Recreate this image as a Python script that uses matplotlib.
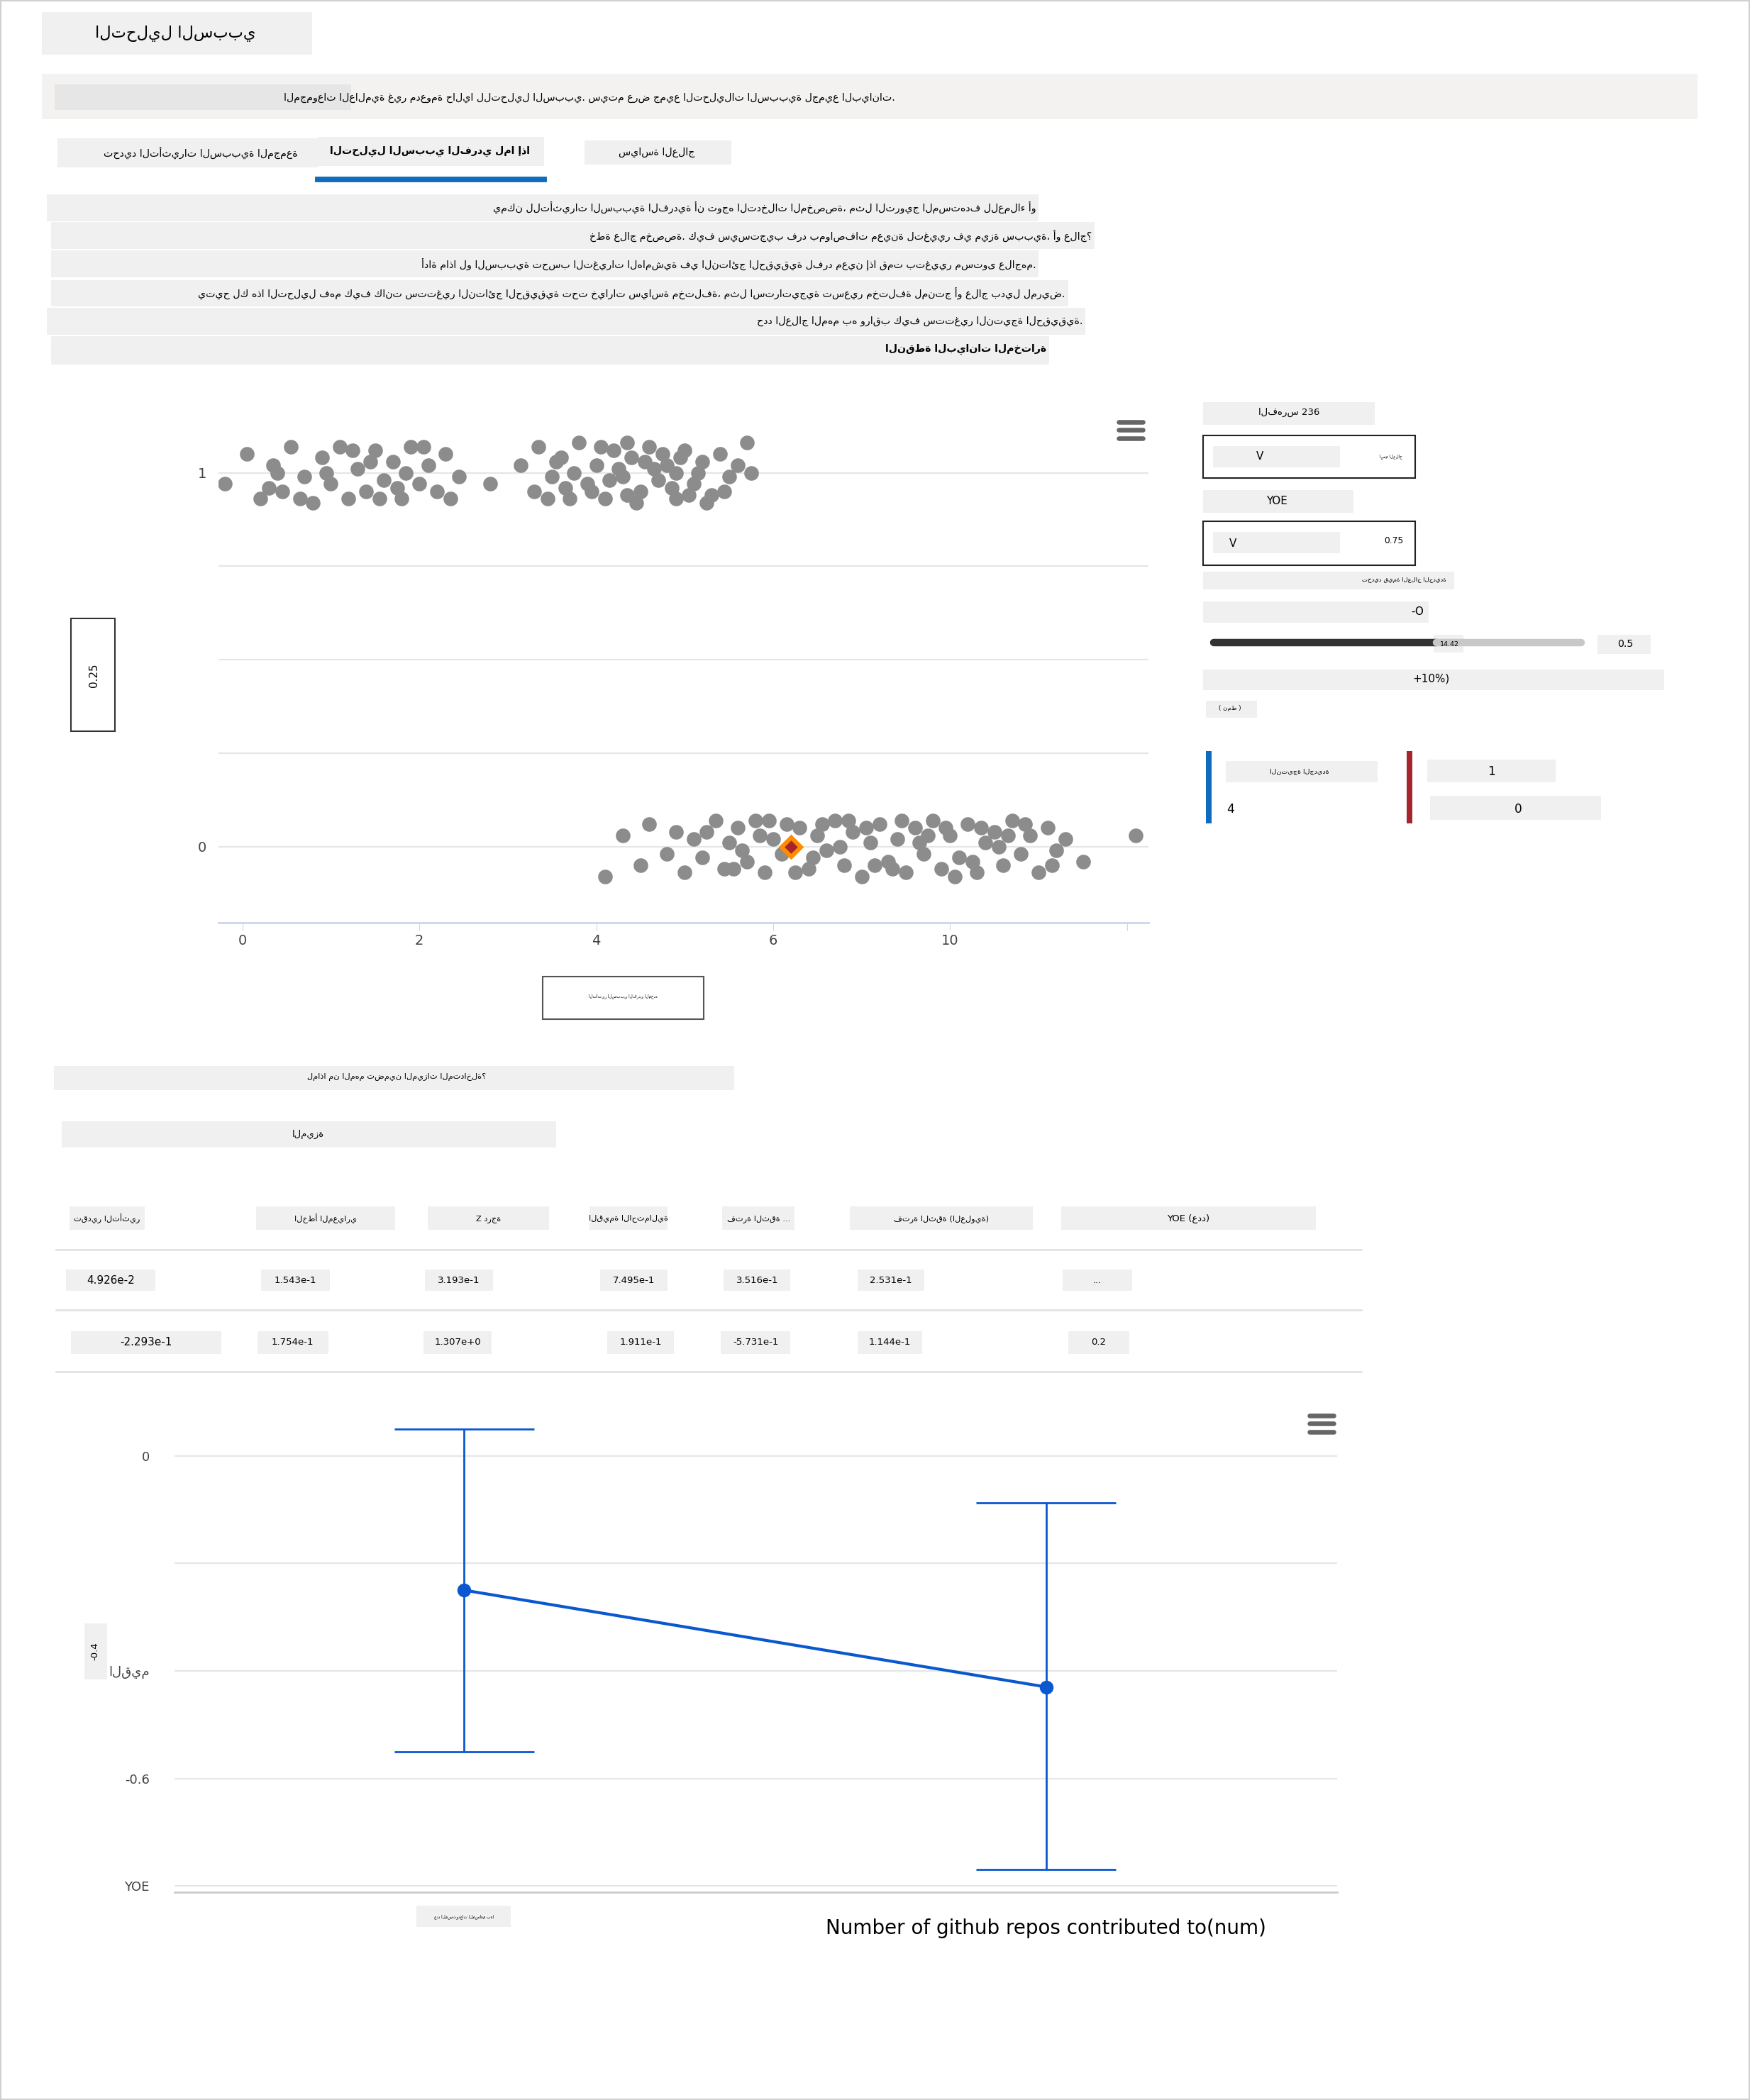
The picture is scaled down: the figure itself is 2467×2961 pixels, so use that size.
import matplotlib.pyplot as plt
from matplotlib.patches import Rectangle

plt.rcParams['font.family'] = ['DejaVu Sans']

W, H = 1306, 1568          # layout grid of the screenshot
K = 2467 / W               # pixels per layout unit
PT = K * 72 / 100          # font points per layout unit

# ---- data ----
top_pts = [(-0.2, 0.97), (0.05, 1.05), (0.2, 0.93), (0.35, 1.02), (0.45, 0.95), (0.55, 1.07), (0.7, 0.99),
           (0.8, 0.92), (0.9, 1.04), (1.0, 0.97), (1.1, 1.07), (1.2, 0.93), (1.3, 1.01), (1.4, 0.95),
           (1.5, 1.06), (1.6, 0.98), (1.7, 1.03), (1.8, 0.93), (1.9, 1.07), (2.0, 0.97), (2.1, 1.02),
           (2.2, 0.95), (2.3, 1.05), (2.45, 0.99), (0.4, 1.0), (0.65, 0.93), (1.25, 1.06), (1.55, 0.93),
           (1.85, 1.0), (2.05, 1.07), (1.45, 1.03), (1.75, 0.96), (0.3, 0.96), (0.95, 1.0), (2.35, 0.93),
           (2.8, 0.97), (3.15, 1.02), (3.3, 0.95), (3.35, 1.07), (3.5, 0.99), (3.6, 1.04), (3.7, 0.93),
           (3.8, 1.08), (3.9, 0.97), (4.0, 1.02), (4.1, 0.93), (4.2, 1.06), (4.3, 0.99), (4.4, 1.04),
           (4.5, 0.95), (4.6, 1.07), (4.7, 0.98), (4.8, 1.02), (4.9, 0.93), (5.0, 1.06), (5.1, 0.97),
           (5.2, 1.03), (5.3, 0.94), (5.4, 1.05), (5.5, 0.99), (5.6, 1.02), (5.7, 1.08), (5.75, 1.0),
           (3.45, 0.93), (3.75, 1.0), (4.05, 1.07), (4.35, 0.94), (4.65, 1.01), (4.95, 1.04), (5.25, 0.92),
           (3.55, 1.03), (3.95, 0.95), (4.25, 1.01), (4.55, 1.03), (4.85, 0.96), (5.15, 1.0), (5.45, 0.95),
           (4.15, 0.98), (4.45, 0.92), (4.75, 1.05), (5.05, 0.94), (4.35, 1.08), (3.65, 0.96), (4.9, 1.0)]
bot_pts = [(4.1, -0.08), (4.3, 0.03), (4.5, -0.05), (4.6, 0.06), (4.8, -0.02), (4.9, 0.04), (5.0, -0.07),
           (5.1, 0.02), (5.2, -0.03), (5.35, 0.07), (5.45, -0.06), (5.5, 0.01), (5.6, 0.05), (5.7, -0.04),
           (5.8, 0.07), (5.9, -0.07), (6.0, 0.02), (6.1, -0.02), (6.3, 0.05), (6.4, -0.06), (6.5, 0.03),
           (6.6, -0.01), (6.7, 0.07), (6.8, -0.05), (6.9, 0.04), (7.0, -0.08), (7.1, 0.01), (7.2, 0.06),
           (7.3, -0.04), (7.4, 0.02), (7.5, -0.07), (7.6, 0.05), (7.7, -0.02), (7.8, 0.07), (7.9, -0.06),
           (8.0, 0.03), (8.1, -0.03), (8.2, 0.06), (8.3, -0.07), (8.4, 0.01), (8.5, 0.04), (8.6, -0.05),
           (8.7, 0.07), (8.8, -0.02), (8.9, 0.03), (9.0, -0.07), (9.1, 0.05), (9.2, -0.01), (9.3, 0.02),
           (9.5, -0.04), (10.1, 0.03), (5.25, 0.04), (5.55, -0.06), (5.85, 0.03), (6.15, 0.06), (6.45, -0.03),
           (6.75, 0.0), (7.05, 0.05), (7.35, -0.06), (7.65, 0.01), (7.95, 0.05), (8.25, -0.04), (8.55, 0.0),
           (8.85, 0.06), (9.15, -0.05), (6.25, -0.07), (6.85, 0.07), (7.45, 0.07), (8.05, -0.08), (8.65, 0.03),
           (5.95, 0.07), (7.15, -0.05), (7.75, 0.03), (8.35, 0.05), (6.55, 0.06), (5.65, -0.01)]
selected = (6.2, 0.0)
x_ticks = [0, 2, 4, 6, 8, 10]
x_tick_labels = ['0', '2', '4', '6', '10', '']
y_ticks = [0, 0.25, 0.5, 0.75, 1]
y_tick_labels = ['0', '', '', '', '1']

features = ['', 'Number of github repos contributed to(num)']
points = [-0.25, -0.43]
ci_upper = [0.05, -0.087]
ci_lower = [-0.55, -0.77]

header = ['تقدير التأثير', 'الخطأ المعياري', 'Z درجة', 'القيمة الاحتمالية', 'فترة الثقة ...',
          'فترة الثقة (العلوية)', 'YOE (عدد)']
row1 = ['4.926e-2', '1.543e-1', '3.193e-1', '7.495e-1', '3.516e-1', '2.531e-1', '...']
row2 = ['-2.293e-1', '1.754e-1', '1.307e+0', '1.911e-1', '-5.731e-1', '1.144e-1', '0.2']

fig = plt.figure(figsize=(24.67, 29.61), dpi=100)
ui = fig.add_axes([0, 0, 1, 1])
ui.set_xlim(0, W)
ui.set_ylim(H, 0)
ui.axis('off')

GRAY = '#f0f0f0'


def box(x0, y0, x1, y1, fc=GRAY, ec='none', lw=1.5):
    ui.add_patch(Rectangle((x0, y0), x1 - x0, y1 - y0, fc=fc, ec=ec, lw=lw))


def txt(x, y, s, size=8, ha='center', **kw):
    ui.text(x, y, s, fontsize=size * PT, ha=ha, va='center', **kw)


box(0.5, 0.5, W - 0.5, H - 0.5, fc='white', ec='#d0d0d0')
box(31, 9, 233, 41)
txt(131, 25, 'التحليل السببي', 12)
box(31, 55, 1267, 89, fc='#f3f2f1')
box(41, 63, 262, 82, fc='#e6e6e6')
txt(668, 73, 'المجموعات العالمية غير مدعومة حاليا للتحليل السببي. سيتم عرض جميع التحليلات السببية لجميع البيانات.', 7.5, ha='right')

box(43, 103, 237, 125)
txt(150, 114, 'تحديد التأثيرات السببية المجمعة', 7.5)
box(237, 102, 406, 124)
txt(321, 113, 'التحليل السببي الفردي لما إذا', 7.5, weight='bold')
ui.plot([237, 406], [134, 134], color='#0f6cbd', lw=3 * K)
box(436, 105, 546, 123)
txt(490, 114, 'سياسة العلاج', 7.5)

lines = [
    (35, 145, 775, 'يمكن للتأثيرات السببية الفردية أن توجه التدخلات المخصصة، مثل الترويج المستهدف للعملاء أو'),
    (38, 166, 817, 'خطة علاج مخصصة. كيف سيستجيب فرد بمواصفات معينة لتغيير في ميزة سببية، أو علاج؟'),
    (38, 187, 775, 'أداة ماذا لو السببية تحسب التغيرات الهامشية في النتائج الحقيقية لفرد معين إذا قمت بتغيير مستوى علاجهم.'),
    (38, 209, 797, 'يتيح لك هذا التحليل فهم كيف كانت ستتغير النتائج الحقيقية تحت خيارات سياسة مختلفة، مثل استراتيجية تسعير مختلفة لمنتج أو علاج بديل لمريض.'),
    (35, 230, 810, 'حدد العلاج المهم به وراقب كيف ستتغير النتيجة الحقيقية.'),
]
for x0, y0, x1, s in lines:
    box(x0, y0, x1, y0 + 20)
    txt(x1 - 2, y0 + 10, s, 7.5, ha='right')
box(38, 251, 783, 272)
txt(781, 261, 'النقطة البيانات المختارة', 7.5, ha='right', weight='bold')

# hamburger icons
for hx, hy in [(844, 321), (986, 1063)]:
    for d in (-6, 0, 6):
        ui.plot([hx - 9, hx + 9], [hy + d, hy + d], color='#666666', lw=2.5 * K, solid_capstyle='round')

box(53, 462, 86, 546, fc='white', ec='#333333')
txt(70, 504, '0.25', 8, rotation=90)
box(405, 729, 525, 761, fc='white', ec='#555555')
txt(465, 744, 'التأثير السببي الفردي المحدد', 3)

# right panel
box(898, 300, 1026, 317)
txt(962, 308, 'الفهرس 236', 7)
box(898, 325, 1056, 357, fc='white', ec='#222222')
box(905, 333, 1000, 349)
txt(940, 341, 'V', 8)
txt(1038, 341, 'اسم العلاج', 3)
box(898, 366, 1010, 383)
txt(953, 374, 'YOE', 8)
box(898, 389, 1056, 422, fc='white', ec='#222222')
box(905, 397, 1000, 413)
txt(920, 406, 'V', 8)
txt(1040, 404, '0.75', 6.5)
box(898, 427, 1085, 440)
txt(1048, 433, 'تحديد قيمة العلاج الجديدة', 4.5)
box(898, 449, 1066, 465)
txt(1058, 457, '-O', 8)
ui.plot([906, 1072], [480, 480], color='#333333', lw=4 * K, solid_capstyle='round')
ui.plot([1072, 1180], [480, 480], color='#c8c8c8', lw=4 * K, solid_capstyle='round')
box(1070, 474, 1092, 487)
txt(1082, 481, '14.42', 5)
box(1192, 474, 1232, 488)
txt(1213, 481, '0.5', 7.5)
box(898, 500, 1242, 515)
txt(1068, 507, '+10%)', 8)
box(900, 523, 938, 536)
txt(918, 529, '( نمط )', 4.5)
box(900, 561, 904, 615, fc='#0f6cbd')
box(915, 568, 1028, 584)
txt(970, 576, 'النتيجة الجديدة', 5)
txt(918, 604, '4', 9)
box(1050, 561, 1054, 615, fc='#a4262c')
box(1065, 567, 1161, 584)
txt(1113, 576, '1', 9)
box(1067, 594, 1195, 612)
txt(1133, 604, '0', 9)

box(40, 796, 548, 814)
txt(296, 804, 'لماذا من المهم تضمين الميزات المتداخلة؟', 6)
box(46, 837, 415, 857)
txt(230, 847, 'الميزة', 7)

# table
head_x = [(52, 108), (191, 295), (319, 410), (440, 498), (539, 593), (634, 771), (792, 982)]
r1_x = [(49, 116), (195, 246), (317, 368), (448, 498), (540, 590), (640, 690), (793, 845)]
r2_x = [(53, 165), (192, 245), (316, 367), (453, 503), (538, 590), (640, 688), (797, 843)]
for (a, b), s in zip(head_x, header):
    box(a, 901, b, 918)
    txt((a + b) / 2, 910, s, 6 if s != 'YOE (عدد)' else 7)
for (a, b), s in zip(r1_x, row1):
    box(a, 948, b, 964)
    txt((a + b) / 2, 956, s, 8 if a < 100 else 7)
for (a, b), s in zip(r2_x, row2):
    box(a, 994, b, 1011)
    txt((a + b) / 2, 1002, s, 8 if a < 100 else 7)
for yy in (933, 978, 1024):
    ui.plot([42, 1016], [yy, yy], color='#e1e1e1', lw=1 * K)

box(63, 1212, 80, 1254)
txt(71, 1233, '-0.4', 7, rotation=90)
box(311, 1423, 381, 1439)
txt(346, 1431, 'عدد المستودعات المساهم بها', 3)


def to_fig(x0, y0, x1, y1):
    return [x0 / W, 1 - y1 / H, (x1 - x0) / W, (y1 - y0) / H]


# chart 1: individual points
ax1 = fig.add_axes(to_fig(163, 315, 857, 689))
ax1.patch.set_alpha(0)
ax1.scatter([p[0] for p in top_pts], [p[1] for p in top_pts], s=220, color='#8c8c8c', zorder=3, lw=0)
ax1.scatter([p[0] for p in bot_pts], [p[1] for p in bot_pts], s=220, color='#8c8c8c', zorder=3, lw=0)
ax1.scatter([selected[0]], [selected[1]], marker='D', s=330, color='#ff8c00', zorder=4, lw=0)
ax1.scatter([selected[0]], [selected[1]], marker='D', s=90, color='#a4262c', zorder=5, lw=0)
ax1.set_xlim(-0.27, 10.24)
ax1.set_ylim(-0.204, 1.136)
ax1.set_xticks(x_ticks, x_tick_labels)
ax1.set_yticks(y_ticks, y_tick_labels)
ax1.grid(axis='y', color='#e6e6e6', lw=1.5)
for s in ('top', 'right', 'left'):
    ax1.spines[s].set_visible(False)
ax1.spines['bottom'].set_color('#ccd6eb')
ax1.spines['bottom'].set_linewidth(2)
ax1.tick_params(axis='y', length=0, labelsize=14, labelcolor='#444444', pad=12)
ax1.tick_params(axis='x', length=8, color='#ccd6eb', labelsize=14, labelcolor='#444444')

# chart 2: aggregate effects with confidence intervals
ax2 = fig.add_axes(to_fig(130, 1050, 998, 1413))
ax2.patch.set_alpha(0)
xs = list(range(len(features)))
ax2.plot(xs, points, color='#0b57d0', lw=3, marker='o', ms=13, zorder=4)
ax2.vlines(xs, ci_lower, ci_upper, color='#0b57d0', lw=2)
for x, lo, hi in zip(xs, ci_lower, ci_upper):
    ax2.hlines([lo, hi], x - 0.12, x + 0.12, color='#0b57d0', lw=2)
ax2.set_xlim(-0.498, 1.5)
ax2.set_ylim(-0.812, 0.092)
ax2.set_yticks([-0.8, -0.6, -0.4, -0.2, 0], ['YOE', '-0.6', 'القيم', '', '0'])
ax2.set_xticks(xs, ['', ''])
ax2.grid(axis='y', color='#e6e6e6', lw=1.5)
for s in ('top', 'right', 'left'):
    ax2.spines[s].set_visible(False)
ax2.spines['bottom'].set_color('#cccccc')
ax2.spines['bottom'].set_linewidth(2)
ax2.tick_params(axis='y', length=0, labelsize=13, labelcolor='#444444', pad=25)
ax2.tick_params(axis='x', length=0)
ax2.text(1, -0.86, features[1], transform=ax2.transData, ha='center', va='top', fontsize=20)

fig.savefig('out.png', dpi=100)
